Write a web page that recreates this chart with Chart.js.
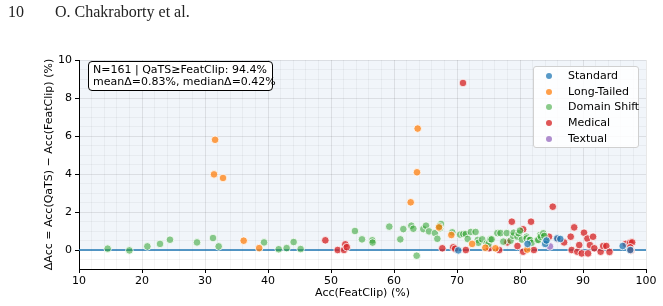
<!DOCTYPE html>
<html>
<head>
<meta charset="utf-8">
<script src="https://cdn.jsdelivr.net/npm/chart.js"></script>
<style>
  body { margin: 0; background: #fff; }
  #wrap { position: relative; width: 663px; height: 306px; overflow: hidden; }
  canvas { position: absolute; left: 0; top: 0; }
  .hdr { position: absolute; top: 3px; font-family: "Liberation Serif", serif; font-size: 16px; color: #222; }
  #stats {
    position: absolute; left: 88px; top: 61px; width: 185px; height: 30px; box-sizing: border-box;
    border: 1px solid #000; border-radius: 4px; background: #fff;
    font: 11px "DejaVu Sans", sans-serif; line-height: 12px; padding: 2px 0 0 4px; white-space: nowrap; color: #000;
  }
  #legend {
    position: absolute; left: 533px; top: 66px; width: 106px; height: 82px; box-sizing: border-box;
    border: 1px solid #d0d0d0; border-radius: 3px; background: rgba(255,255,255,0.85);
    font: 11px "DejaVu Sans", sans-serif; color: #000;
  }
  .row { position: absolute; left: 0; height: 14px; line-height: 14px; white-space: nowrap; }
  .dot { position: absolute; left: 12px; top: 4px; width: 6px; height: 6px; border-radius: 50%; }
  .lab { position: absolute; left: 34px; top: 0; }
</style>
</head>
<body>
<div id="wrap">
  <canvas id="chart" width="663" height="306"></canvas>
  <div class="hdr" style="left:8px">10</div>
  <div class="hdr" style="left:55px">O. Chakraborty et al.</div>
  <div id="stats">N=161 | QaTS≥FeatClip: 94.4%<br>meanΔ=0.83%, medianΔ=0.42%</div>
  <div id="legend"></div>
</div>
<script>
// categorias y colores
const categories = ['Standard', 'Long-Tailed', 'Domain Shift', 'Medical', 'Textual'];
const colors = ['#1f77b4', '#ff7f0e', '#2ca02c', '#d62728', '#9467bd'];
const alphas = [0.75, 0.75, 0.55, 0.78, 0.75];

// Acc(FeatClip) y delta por categoria
const standardX = [70.2, 81.2, 84.0, 84.2, 85.9, 86.4, 96.3, 97.5];
const standardY = [-0.02, 0.32, 0.32, 0.5, 0.61, 0.58, 0.21, 0.0];

const longTailedX = [31.6, 31.43, 32.86, 36.14, 38.6, 62.65, 63.65, 63.76, 67.14, 69.1, 72.4, 74.5, 76.1, 81.15];
const longTailedY = [5.8, 3.98, 3.79, 0.49, 0.1, 2.51, 4.09, 6.39, 1.19, 0.79, 0.32, 0.12, 0.09, 0.02];

const domainShiftX = [14.55, 18.0, 20.85, 22.86, 24.44, 28.73, 31.27, 32.17, 39.37, 41.7, 42.96, 44.07, 45.18,
  53.8, 54.92, 56.56, 56.6, 59.25, 61.0, 61.48, 62.75, 63.07, 63.6, 64.65, 65.08, 65.56, 66.5, 66.88, 67.3, 67.46, 67.2,
  69.25, 70.5, 71.0, 71.4, 71.7, 72.2, 72.95, 73.3, 73.4, 74.0, 74.7, 75.0, 75.3, 75.5, 76.4, 76.9, 77.35, 77.9,
  78.5, 78.9, 79.0, 79.6, 79.8, 80.0, 80.3, 81.05, 81.05, 81.5, 81.6, 81.85, 82.75, 82.9, 83.2, 83.3, 83.7, 83.85, 84.1];
const domainShiftY = [0.07, -0.02, 0.19, 0.32, 0.54, 0.4, 0.63, 0.19, 0.4, 0.04, 0.1, 0.42, 0.05,
  1.0, 0.56, 0.51, 0.39, 1.23, 0.56, 1.1, 1.28, 1.12, -0.3, 1.1, 1.28, 0.98, 0.89, 0.59, 1.14, 1.37, 1.25,
  0.93, 0.81, 0.84, 0.84, 0.58, 0.95, 0.95, 0.53, 0.38, 0.56, 0.35, 0.32, 0.56, 0.56, 0.89, 0.89, 0.44, 0.89,
  0.49, 0.75, 0.91, 0.7, 0.88, 1.02, 0.55, 0.7, 0.61, 0.53, 0.53, 0.38, 0.53, 0.53, 0.79, 0.7, 0.88, 0.74, 0.44];

const medicalX = [49.1, 51.06, 52.06, 52.27, 52.5, 67.67, 69.4, 69.7, 70.95, 71.4, 75.1, 76.7, 78.0, 78.7, 79.6,
  80.5, 80.5, 81.75, 82.2, 84.6, 85.2, 86.0, 87.0, 88.05, 88.6, 88.2, 89.1, 89.4, 89.8, 90.16, 90.7, 90.8,
  91.1, 91.6, 91.8, 92.8, 93.2, 93.7, 94.2, 96.8, 97.5, 97.8, 97.5, 97.6];
const medicalY = [0.51, 0.0, 0.0, 0.3, 0.15, 0.09, 0.14, 0.07, 8.79, 0.0, 0.09, 0.0, 0.4, 1.49, 0.21,
  1.09, -0.09, 1.49, 0.0, 0.7, 2.28, 0.58, 0.4, 0.7, 1.19, 0.0, -0.09, 0.26, -0.18, 0.91, 0.6, -0.18,
  0.26, 0.7, 0.09, -0.09, 0.21, 0.21, -0.1, 0.32, 0.39, 0.4, 0.14, -0.02];

const textualX = [84.75];
const textualY = [0.19];

const seriesX = [standardX, longTailedX, domainShiftX, medicalX, textualX];
const seriesY = [standardY, longTailedY, domainShiftY, medicalY, textualY];

function withAlpha(hex, a) {
  const n = parseInt(hex.slice(1), 16);
  return `rgba(${n >> 16}, ${(n >> 8) & 255}, ${n & 255}, ${a})`;
}

const datasets = categories.map((name, i) => ({
  type: 'scatter',
  label: name,
  data: seriesX[i].map((x, j) => ({ x: x, y: seriesY[i][j] })),
  backgroundColor: withAlpha(colors[i], alphas[i]),
  borderColor: 'rgba(255,255,255,0.8)',
  borderWidth: 1,
  pointRadius: 3.8,
  order: 1
}));

// linea de referencia en 0
datasets.push({
  type: 'line',
  label: 'zero',
  data: [{ x: 10, y: 0 }, { x: 100, y: 0 }],
  borderColor: '#1f77b4',
  borderWidth: 1.5,
  pointRadius: 0,
  order: 10
});

// leyenda en html
const legend = document.getElementById('legend');
categories.forEach((name, i) => {
  const row = document.createElement('div');
  row.className = 'row';
  row.style.top = (2 + i * 15.7) + 'px';
  row.style.width = '100%';
  row.innerHTML = `<span class="dot" style="background:${withAlpha(colors[i], alphas[i])}"></span><span class="lab">${name}</span>`;
  legend.appendChild(row);
});

const shade = {
  id: 'shade',
  beforeDraw(chart) {
    const { ctx, chartArea: a, scales: { y } } = chart;
    const top = y.getPixelForValue(10), bot = y.getPixelForValue(0);
    ctx.save();
    ctx.fillStyle = '#f1f5fa';
    ctx.fillRect(a.left, top, a.right - a.left, bot - top);
    ctx.restore();
  }
};

const major = 'rgba(0,0,0,0.09)';
const minor = 'rgba(0,0,0,0.04)';
const tickFont = { family: 'DejaVu Sans', size: 11 };

new Chart(document.getElementById('chart'), {
  data: { datasets: datasets },
  plugins: [shade],
  options: {
    responsive: false,
    animation: false,
    layout: { padding: { left: 0, right: 17, top: 60, bottom: 0 } },
    plugins: { legend: { display: false }, tooltip: { enabled: false } },
    scales: {
      x: {
        type: 'linear', min: 10, max: 100,
        afterFit: s => { s.height = 37; },
        ticks: {
          stepSize: 2, autoSkip: false, maxRotation: 0, padding: 2,
          color: '#000', font: tickFont,
          callback: v => (v % 10 === 0 ? v : '')
        },
        grid: {
          color: c => (c.tick && c.tick.value % 10 === 0 ? major : minor),
          tickColor: c => (c.tick && c.tick.value % 10 === 0 ? '#000' : 'rgba(0,0,0,0)'),
          tickLength: 4
        },
        border: { color: '#000', width: 1 },
        title: { display: true, text: 'Acc(FeatClip) (%)', color: '#000', font: tickFont, padding: { top: 0, bottom: 6 } }
      },
      y: {
        type: 'linear', min: -1, max: 10,
        afterFit: s => { s.width = 79; },
        ticks: {
          stepSize: 0.5, autoSkip: false, padding: 3,
          color: '#000', font: tickFont,
          callback: v => (v % 2 === 0 ? v : '')
        },
        grid: {
          color: c => (c.tick && c.tick.value % 2 === 0 ? major : minor),
          tickColor: c => (c.tick && c.tick.value % 2 === 0 ? '#000' : 'rgba(0,0,0,0)'),
          tickLength: 4
        },
        border: { color: '#000', width: 1 },
        title: { display: true, text: 'ΔAcc = Acc(QaTS) − Acc(FeatClip) (%)', color: '#000', font: tickFont, padding: { top: 43, bottom: 0 } }
      }
    }
  }
});
</script>
</body>
</html>
